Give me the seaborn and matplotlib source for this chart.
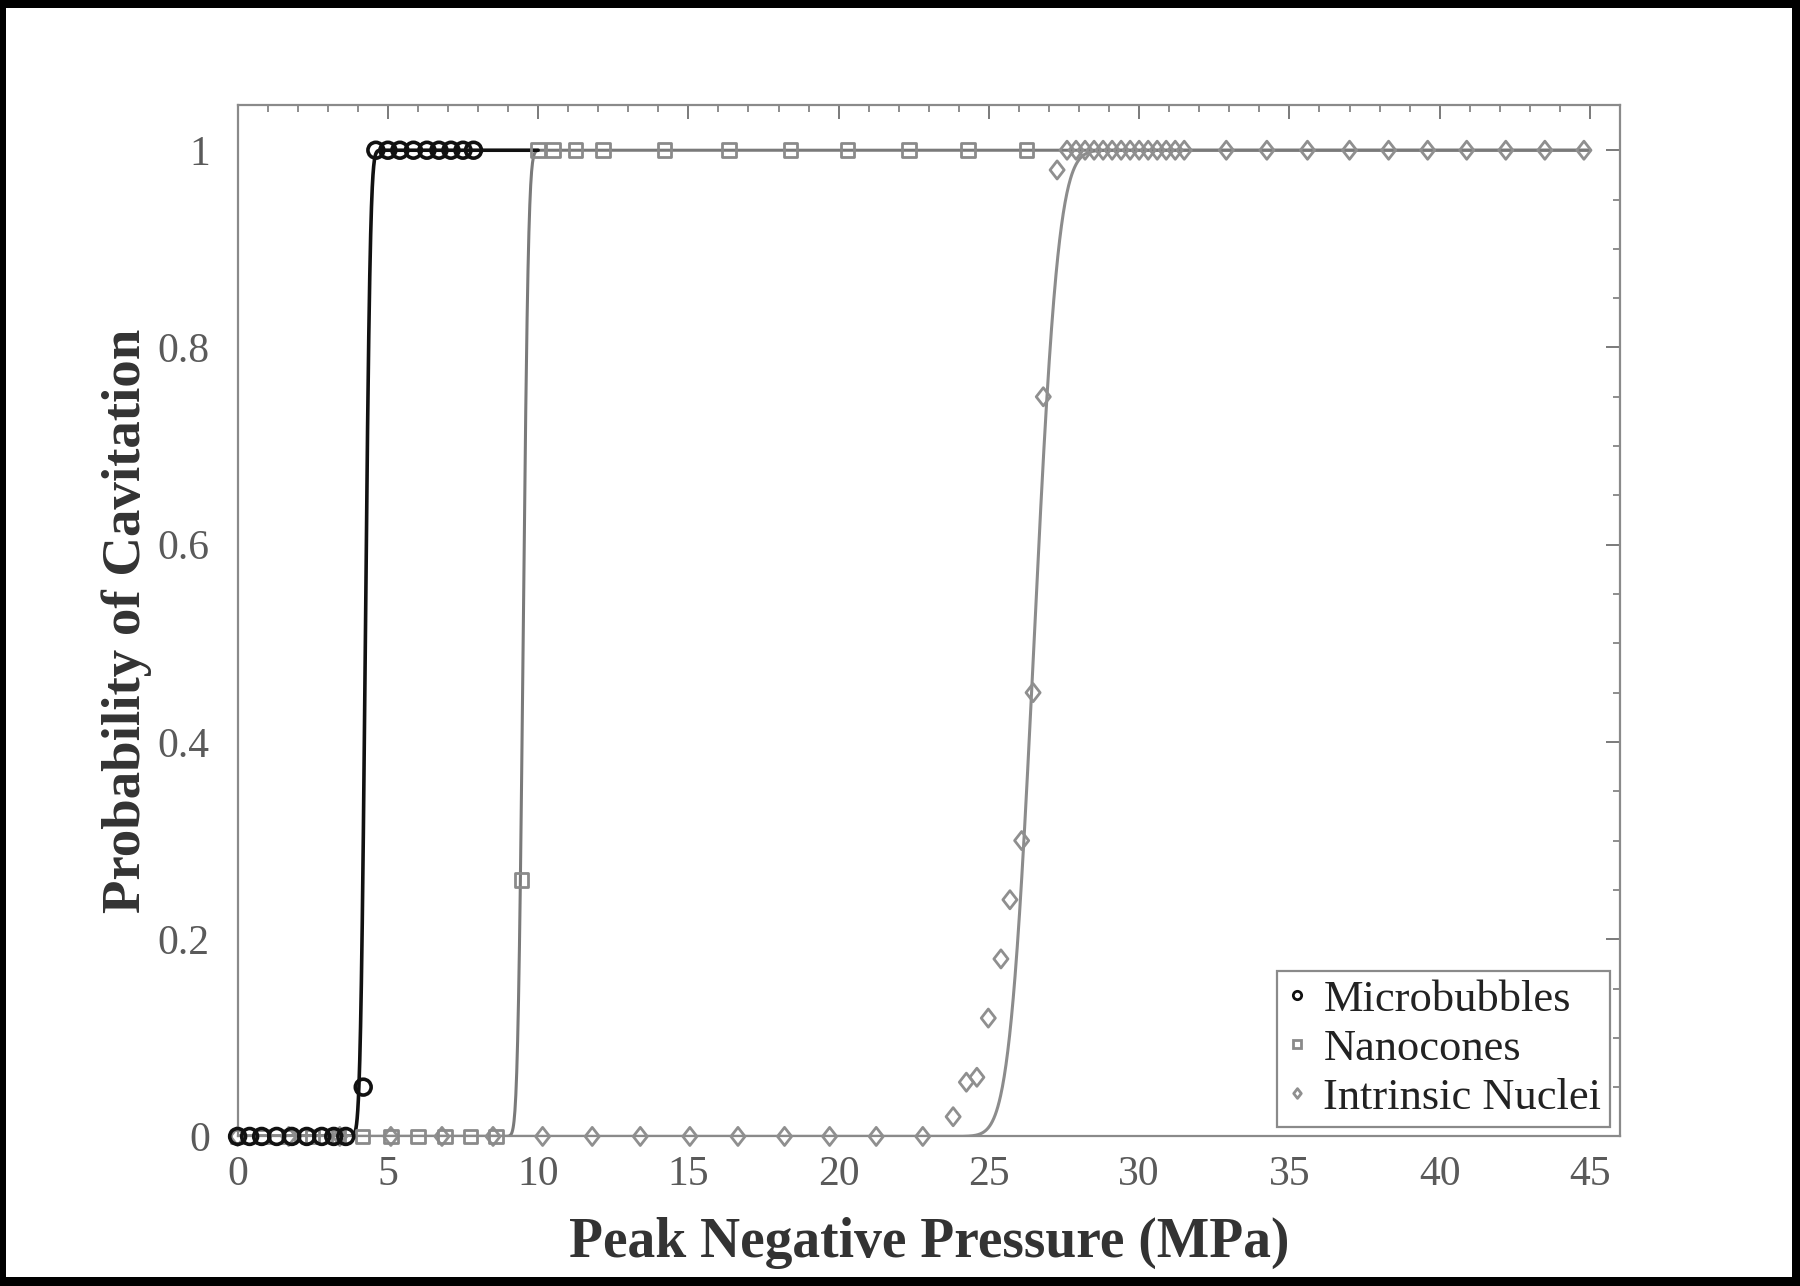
import numpy as np
import pandas as pd
import matplotlib
matplotlib.use("Agg")
import matplotlib.pyplot as plt
import seaborn as sns
from matplotlib.ticker import MultipleLocator, FixedLocator, FixedFormatter
from matplotlib.patches import Rectangle
from matplotlib.lines import Line2D
from matplotlib.path import Path
from math import erf

# ---------------- data ----------------
mb_x = [0.0, 0.4, 0.8, 1.3, 1.8, 2.3, 2.8, 3.2, 3.6, 4.18,
        4.6, 5.0, 5.4, 5.85, 6.3, 6.7, 7.1, 7.5, 7.85]
mb_y = [0, 0, 0, 0, 0, 0, 0, 0, 0, 0.05,
        1, 1, 1, 1, 1, 1, 1, 1, 1]

nc_x = [0.0, 0.85, 1.7, 2.5, 3.35, 4.15, 5.1, 6.0, 6.9, 7.75, 8.6, 9.45,
        10.0, 10.5, 11.25, 12.15, 14.2, 16.35, 18.4, 20.3, 22.35, 24.3, 26.25]
nc_y = [0, 0, 0, 0, 0, 0, 0, 0, 0, 0, 0, 0.26,
        1, 1, 1, 1, 1, 1, 1, 1, 1, 1, 1]

in_x = [0.0, 1.7, 3.4, 5.1, 6.8, 8.5, 10.15, 11.8, 13.4, 15.05, 16.65, 18.2, 19.7, 21.25, 22.8,
        23.81, 24.25, 24.6, 24.98, 25.4, 25.7, 26.09, 26.47, 26.81, 27.27,
        27.6, 27.9, 28.2, 28.5, 28.8, 29.1, 29.4, 29.7, 30.0, 30.3, 30.6, 30.9, 31.2, 31.5,
        32.9, 34.25, 35.6, 37.0, 38.3, 39.6, 40.9, 42.2, 43.5, 44.8]
in_y = [0, 0, 0, 0, 0, 0, 0, 0, 0, 0, 0, 0, 0, 0, 0,
        0.02, 0.055, 0.06, 0.12, 0.18, 0.24, 0.30, 0.45, 0.75, 0.98,
        1, 1, 1, 1, 1, 1, 1, 1, 1, 1, 1, 1, 1, 1,
        1, 1, 1, 1, 1, 1, 1, 1, 1, 1]

# fitted cumulative-normal curves: (mean, sigma, x-range end)
mb_fit = (4.25, 0.13, 10.0)
nc_fit = (9.5, 0.14, 45.0)
in_fit = (26.5, 0.64, 45.0)

series = ["Microbubbles", "Nanocones", "Intrinsic Nuclei"]
x_ticks = [0, 5, 10, 15, 20, 25, 30, 35, 40, 45]
y_ticks = [0, 0.2, 0.4, 0.6, 0.8, 1.0]
y_tick_labels = ["0", "0.2", "0.4", "0.6", "0.8", "1"]

# ---------------- build tables ----------------
pts = pd.concat([
    pd.DataFrame({"x": mb_x, "y": mb_y, "s": series[0]}),
    pd.DataFrame({"x": nc_x, "y": nc_y, "s": series[1]}),
    pd.DataFrame({"x": in_x, "y": in_y, "s": series[2]}),
], ignore_index=True)

verf = np.vectorize(erf)
def fit_df(params, name):
    mu, sig, xend = params
    xx = np.linspace(0, xend, 3000)
    yy = 0.5 * (1 + verf((xx - mu) / (sig * np.sqrt(2))))
    return pd.DataFrame({"x": xx, "y": yy, "s": name})

fits = pd.concat([fit_df(mb_fit, series[0]), fit_df(nc_fit, series[1]),
                  fit_df(in_fit, series[2])], ignore_index=True)

# ---------------- figure ----------------
sns.set_theme(style="white")
plt.rcParams["font.family"] = ["Liberation Serif", "DejaVu Serif"]

fig = plt.figure(figsize=(18, 12.86), dpi=100)
ax = fig.add_axes([0.132, 0.1163, 0.768, 0.8017])

diamond = Path([(0, 1), (0.78, 0), (0, -1), (-0.78, 0), (0, 1)],
               [Path.MOVETO, Path.LINETO, Path.LINETO, Path.LINETO, Path.CLOSEPOLY])

line_cols = {series[0]: "#111111", series[1]: "#7a7a7a", series[2]: "#8c8c8c"}
mark_cols = {series[0]: "#111111", series[1]: "#8a8a8a", series[2]: "#8f8f8f"}
markers = {series[0]: "o", series[1]: "s", series[2]: diamond}
sizes = {series[0]: 130, series[1]: 95, series[2]: 170}

for name in [series[2], series[1], series[0]]:
    sns.lineplot(data=fits[fits.s == name], x="x", y="y", ax=ax,
                 color=line_cols[name], lw=2.6 if name == series[0] else 2.2,
                 legend=False, zorder=2)

for name in [series[2], series[1], series[0]]:
    sub = pts[pts.s == name]
    sns.scatterplot(data=sub, x="x", y="y", ax=ax, marker=markers[name],
                    s=sizes[name], facecolor="none", edgecolor=mark_cols[name],
                    linewidth=2.6 if name == series[0] else 2.0,
                    legend=False, zorder=3, clip_on=False)

ax.set_xlim(0, 46)
ax.set_ylim(0, 1.0454)
ax.xaxis.set_major_locator(FixedLocator(x_ticks))
ax.xaxis.set_minor_locator(MultipleLocator(1))
ax.yaxis.set_major_locator(FixedLocator(y_ticks))
ax.yaxis.set_major_formatter(FixedFormatter(y_tick_labels))
ax.yaxis.set_minor_locator(MultipleLocator(0.05))

for sp in ax.spines.values():
    sp.set_color("#8a8a8a")
    sp.set_linewidth(1.6)

ax.tick_params(which="both", direction="in", top=True, right=True, color="#7a7a7a")
ax.tick_params(which="major", length=10, width=1.4)
ax.tick_params(which="minor", length=5, width=1.2)
ax.tick_params(axis="x", which="major", labelsize=30, labelcolor="#5a5a5a", pad=14)
ax.tick_params(axis="y", which="major", labelsize=30, labelcolor="#5a5a5a", pad=20)

ax.set_xlabel("Peak Negative Pressure (MPa)", fontsize=40, fontweight="bold",
              color="#333333", labelpad=16)
ax.set_ylabel("Probability of Cavitation", fontsize=39.5, fontweight="bold",
              color="#333333", labelpad=4)

handles = [Line2D([], [], ls="none", marker=markers[n],
                  markersize=6 if n != series[2] else 7,
                  markerfacecolor="none", markeredgecolor=mark_cols[n], markeredgewidth=2.0)
           for n in series]
leg = ax.legend(handles, series, loc="lower right", fontsize=32, frameon=True,
                fancybox=False, framealpha=1, edgecolor="#8a8a8a",
                handlelength=0.5, handletextpad=0.35, borderaxespad=0.22,
                borderpad=0.2, labelspacing=0.2)
leg.get_frame().set_linewidth(1.6)
for t in leg.get_texts():
    t.set_color("#222222")

# black picture border
for (x0, y0, w, h) in [(0, 0, 1, 9 / 1286), (0, 1 - 8 / 1286, 1, 8 / 1286),
                       (0, 0, 6 / 1800, 1), (1 - 8 / 1800, 0, 8 / 1800, 1)]:
    fig.add_artist(Rectangle((x0, y0), w, h, transform=fig.transFigure,
                             facecolor="black", edgecolor="none"))

fig.savefig("out.png", dpi=100)
